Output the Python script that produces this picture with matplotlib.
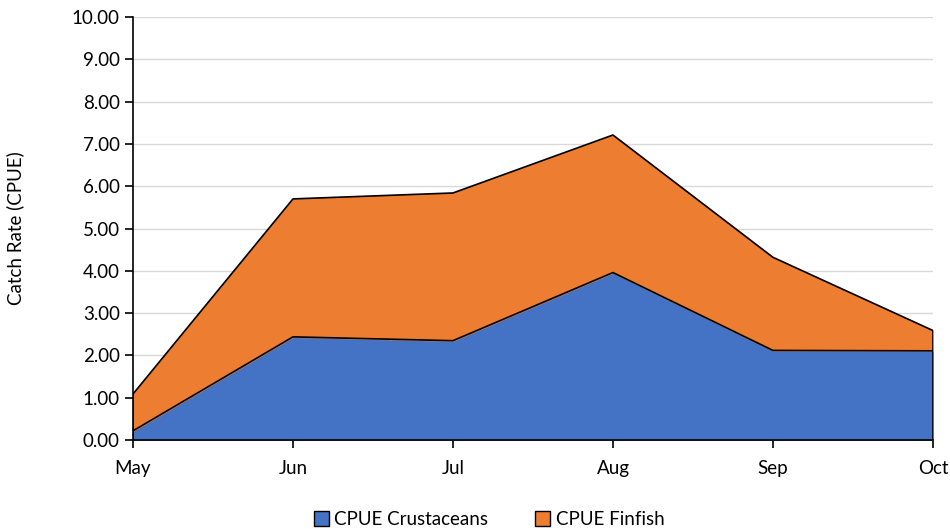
import matplotlib.pyplot as plt
from matplotlib.patches import Patch
import numpy as np

months = ["May", "Jun", "Jul", "Aug", "Sep", "Oct"]
crustaceans = [0.22, 2.44, 2.35, 3.96, 2.12, 2.11]
finfish = [0.87, 3.26, 3.49, 3.25, 2.20, 0.48]

plt.rcParams['font.family'] = ['Lato', 'DejaVu Sans']

fig = plt.figure(figsize=(9.5, 5.29), dpi=100)
ax = fig.add_axes([0.14, 0.168, 0.842, 0.8])

x = np.arange(len(months))
blue = "#4472C4"
orange = "#ED7D31"
total = np.array(crustaceans) + np.array(finfish)

ax.fill_between(x, 0, crustaceans, color=blue, zorder=2)
ax.fill_between(x, crustaceans, total, color=orange, zorder=2)
ax.plot(x, crustaceans, color="black", lw=1.2, zorder=3)
ax.plot(x, total, color="black", lw=1.2, zorder=3)
# edges at the ends of the area
ax.plot([x[0], x[0]], [0, total[0]], color="black", lw=1.2, zorder=3)
ax.plot([x[-1], x[-1]], [0, total[-1]], color="black", lw=1.2, zorder=3)

ax.set_xlim(x[0], x[-1])
ax.set_ylim(0, 10)
ax.set_yticks(np.arange(0, 10.01, 1))
ax.set_yticklabels([f"{v:.2f}" for v in np.arange(0, 10.01, 1)])
ax.set_xticks(x)
ax.set_xticklabels(months)
ax.grid(axis="y", color="#D9D9D9", lw=1, zorder=0)
ax.set_axisbelow(True)

for s in ["top", "right"]:
    ax.spines[s].set_visible(False)
for s in ["left", "bottom"]:
    ax.spines[s].set_color("black")
    ax.spines[s].set_linewidth(1.2)
    ax.spines[s].set_zorder(4)

ax.tick_params(axis="both", direction="out", length=6, width=1.2, labelsize=13.5, colors="black")
ax.tick_params(axis="x", pad=8)
ax.set_ylabel("Catch Rate (CPUE)", fontsize=13.5, labelpad=34)

handles = [Patch(facecolor=blue, edgecolor="black", label="CPUE Crustaceans"),
           Patch(facecolor=orange, edgecolor="black", label="CPUE Finfish")]
fig.legend(handles=handles, loc="lower center", ncol=2, frameon=False,
           fontsize=13.5, bbox_to_anchor=(0.515, -0.03), handlelength=0.8,
           handleheight=0.8, columnspacing=2.5, handletextpad=0.3)

fig.savefig("out.png", dpi=100)
